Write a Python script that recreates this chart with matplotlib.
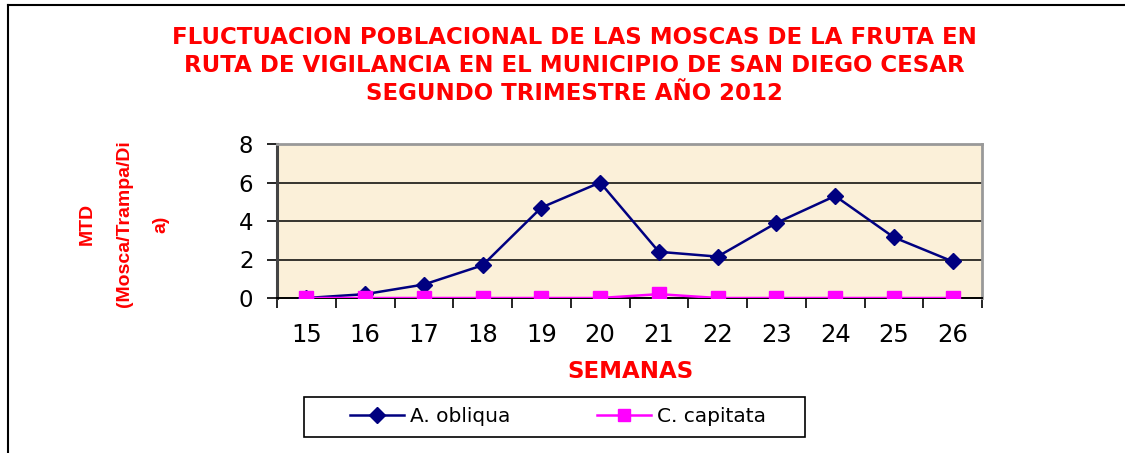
import matplotlib
matplotlib.use("Agg")
import matplotlib.pyplot as plt
from matplotlib.patches import Rectangle
from matplotlib.lines import Line2D

semanas = ["15", "16", "17", "18", "19", "20", "21", "22", "23", "24", "25", "26"]
a_obliqua = [0.0, 0.2, 0.7, 1.7, 4.7, 6.0, 2.4, 2.15, 3.9, 5.3, 3.15, 1.9]
c_capitata = [0.0, 0.0, 0.0, 0.0, 0.0, 0.0, 0.2, 0.0, 0.0, 0.0, 0.0, 0.0]
y_ticks = [0, 2, 4, 6, 8]

title = ("FLUCTUACION POBLACIONAL DE LAS MOSCAS DE LA FRUTA EN\n"
         "RUTA DE VIGILANCIA EN EL MUNICIPIO DE SAN DIEGO CESAR\n"
         "SEGUNDO TRIMESTRE AÑO 2012")
ylabel = "MTD\n(Mosca/Trampa/Di\na)"
xlabel = "SEMANAS"

W, H = 1125, 453
fig = plt.figure(figsize=(W / 100, H / 100), dpi=100)
fig.patch.set_facecolor("white")

# outer frame (left and top edges visible)
fig.add_artist(Line2D([8 / W, 8 / W], [-0.01, 1 - 5 / H], color="black", lw=1.5,
                      transform=fig.transFigure))
fig.add_artist(Line2D([8 / W, 1.01], [1 - 5 / H, 1 - 5 / H], color="black", lw=1.5,
                      transform=fig.transFigure))

x0, x1, yb, yt = 277, 982, 298, 144
ax = fig.add_axes([x0 / W, 1 - yb / H, (x1 - x0) / W, (yb - yt) / H])
ax.set_facecolor("#FBF0D9")

x = list(range(len(semanas)))
ax.plot(x, a_obliqua, color="#000080", lw=1.8, marker="D", markersize=8.5,
        markerfacecolor="#000080", markeredgecolor="#000080", label="A. obliqua", zorder=3)
ax.plot(x, c_capitata, color="#FF00FF", lw=1.8, marker="s", markersize=10,
        markerfacecolor="#FF00FF", markeredgecolor="#FF00FF", label="C. capitata", zorder=4)

ax.set_xlim(-0.5, len(semanas) - 0.5)
ax.set_ylim(0, 8)
ax.set_yticks(y_ticks)
ax.set_yticklabels([str(v) for v in y_ticks], fontsize=16.5, family="DejaVu Sans")
ax.set_xticks(x)
ax.set_xticklabels(semanas, fontsize=17.5, family="DejaVu Sans")
ax.tick_params(axis="x", length=0, pad=18)
ax.set_xticks([i - 0.5 for i in range(len(semanas) + 1)], minor=True)
ax.tick_params(axis="x", which="minor", length=7, width=1.2, color="black", direction="out")
ax.tick_params(axis="y", length=7, width=1.2, direction="out", pad=10)

for v in y_ticks[1:-1]:
    ax.axhline(v, color="black", lw=1.1, zorder=1)
ax.spines["left"].set_color("#444444")
ax.spines["left"].set_linewidth(2.2)
ax.spines["bottom"].set_color("black")
ax.spines["bottom"].set_linewidth(1.4)
ax.spines["top"].set_color("#999999")
ax.spines["top"].set_linewidth(2.0)
ax.spines["right"].set_color("#999999")
ax.spines["right"].set_linewidth(2.0)

fig.text(574 / W, 1 - 65.5 / H, title, ha="center", va="center", color="#FF0000",
         fontsize=16.5, fontweight="bold", family="DejaVu Sans", linespacing=1.27)

fig.text(124 / W, 1 - 224 / H, ylabel, ha="center", va="center", rotation=90,
         color="#FF0000", fontsize=14, fontweight="bold", family="Liberation Sans",
         linespacing=2.5, multialignment="center")

fig.text(630 / W, 1 - 371 / H, xlabel, ha="center", va="center", color="#FF0000",
         fontsize=16.5, fontweight="bold", family="DejaVu Sans")

# legend frame
fig.add_artist(Rectangle((304 / W, 1 - 437 / H), (805 - 304) / W, 40 / H,
                         transform=fig.transFigure, facecolor="white",
                         edgecolor="black", lw=1.2, zorder=1))
leg = fig.legend(loc="center", bbox_to_anchor=(558 / W, 1 - 417 / H), ncol=2,
                 frameon=False, prop={"family": "DejaVu Sans", "size": 14.5},
                 handlelength=2.7, columnspacing=4.3, borderpad=0.2,
                 handletextpad=0.3)
leg.set_zorder(2)
for h in leg.legend_handles:
    h.set_markersize(8)

fig.savefig("out.png", dpi=100)
